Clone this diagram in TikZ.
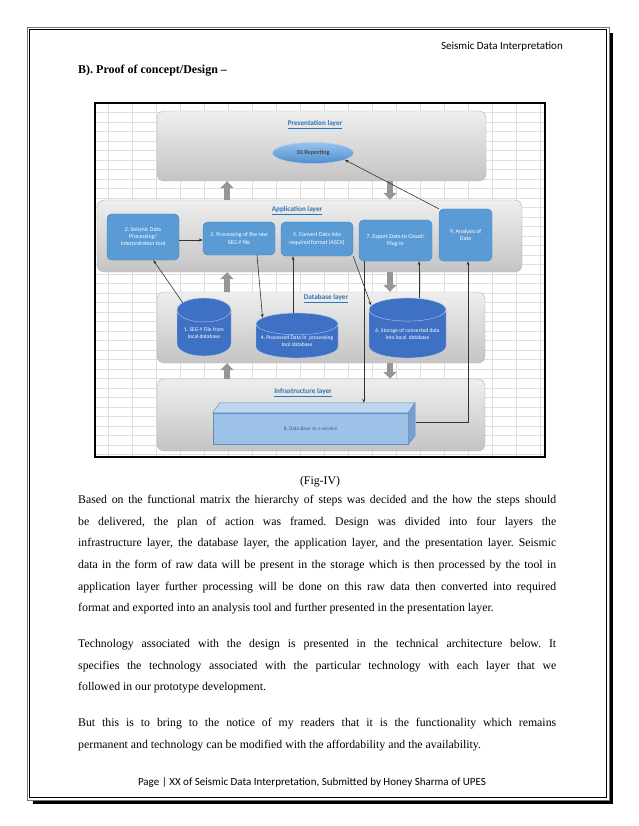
\documentclass[tikz,border=0pt]{standalone}
\usepackage{fontspec}
\setmainfont{Liberation Serif}
\newfontfamily\calfont{Carlito}
\usetikzlibrary{
  arrows.meta,
  positioning,
  calc,
  shapes.geometric
}
\definecolor{LayerTop}{RGB}{238,238,238}
\definecolor{LayerBottom}{RGB}{196,196,196}
\definecolor{LayerEdge}{RGB}{178,178,178}
\definecolor{TitleBlue}{RGB}{46,117,182}
\definecolor{StepBlue}{RGB}{91,155,213}
\definecolor{StepEdge}{RGB}{72,132,192}
\definecolor{DbBlue}{RGB}{62,112,196}
\definecolor{DbRim}{RGB}{176,204,238}
\definecolor{RepTop}{RGB}{150,196,236}
\definecolor{RepBottom}{RGB}{78,140,206}
\definecolor{RepText}{RGB}{70,70,80}
\definecolor{SvcFront}{RGB}{156,194,232}
\definecolor{SvcTop}{RGB}{190,214,240}
\definecolor{SvcSide}{RGB}{118,158,206}
\definecolor{SvcEdge}{RGB}{96,140,196}
\definecolor{SvcText}{RGB}{52,96,150}
\definecolor{BlockGray}{RGB}{150,150,150}
\definecolor{GridGray}{RGB}{222,222,222}
\newcommand\jline[1]{\makebox[478pt][s]{#1}}
\tikzset{
  layerbox/.style={draw=LayerEdge,top color=LayerTop,bottom color=LayerBottom,rounded corners=2.5mm,inner sep=0pt},
  layertitle/.style={font=\calfont\bfseries\fontsize{7.2}{8}\selectfont,text=TitleBlue,inner sep=0pt},
  stepnode/.style={draw=StepEdge,fill=StepBlue,rounded corners=1.6mm,text=white,align=center,font=\calfont\fontsize{5.9}{7.4}\selectfont,inner sep=1pt},
  dbnode/.style={cylinder,shape border rotate=90,anchor=shape center,draw=DbRim,fill=DbBlue,text=white,align=center,font=\calfont\fontsize{5.6}{7.2}\selectfont,inner sep=0pt},
  reportnode/.style={ellipse,draw=DbRim,top color=RepTop,bottom color=RepBottom,text=RepText,font=\calfont\bfseries\fontsize{6.2}{7}\selectfont,inner sep=0pt},
  svcface/.style={draw=SvcEdge,fill=SvcFront,text=SvcText,font=\calfont\fontsize{5.4}{6}\selectfont,inner sep=0pt},
  thinarrow/.style={-{Stealth[length=4pt,width=3pt]},line width=0.6pt,draw=black!80},
  blockarrow/.style={-{Triangle[width=13pt,length=7pt]},line width=5.5pt,draw=BlockGray},
  gridline/.style={draw=GridGray,line width=0.5pt},
  bodytext/.style={font=\fontsize{11.8}{14}\selectfont,inner sep=0pt},
  titletext/.style={font=\bfseries\fontsize{12}{14}\selectfont,inner sep=0pt},
  calibritext/.style={font=\calfont\fontsize{11}{13}\selectfont,inner sep=0pt}
}

\begin{document}
\frenchspacing
\begin{tikzpicture}[x=1pt,y=-1pt]
\useasboundingbox (0,0) rectangle (638,826);

% page frame with shadow
\draw[line width=3pt] (611,33) -- (611,802) -- (33,802);
\draw[black!55,line width=0.5pt] (27,27) rectangle (609,800);
\draw[line width=0.8pt] (29.5,29.5) rectangle (606.5,797.5);

\node[calibritext, anchor=base east] (head) at (563,50) {Seismic Data Interpretation};
\node[titletext, anchor=base west] (title) at (78,74) {B). Proof of concept/Design --};

% figure background
\foreach \gx in {108,132,...,540}
  \draw[gridline] (\gx,103) -- (\gx,457);
\foreach \gy in {112.5,122,...,457}
  \draw[gridline] (95,\gy) -- (545,\gy);
\draw[line width=1.1pt] (95,103) rectangle (545,457);

% layers
\node[layerbox, minimum width=329pt, minimum height=70pt] (pres) at (321.5,146) {};
\node[layerbox, minimum width=425pt, minimum height=72pt] (app) at (309.5,236) {};
\node[layerbox, minimum width=328pt, minimum height=71pt] (db) at (321,327.5) {};
\node[layerbox, minimum width=328pt, minimum height=72pt] (infra) at (321,415) {};

\node[layertitle] (prest) at (315,125) {\underline{Presentation layer}};
\node[layertitle] (appt) at (297,211) {\underline{Application layer}};
\node[layertitle] (dbt) at (326,299) {\underline{Database layer}};
\node[layertitle] (infrat) at (303,393) {\underline{Infrastructure layer}};

% presentation
\node[reportnode, minimum width=81pt, minimum height=21pt] (rep) at (313,153) {10.Reporting};

% application
\node[stepnode, minimum width=72pt, minimum height=46pt] (s2) at (143,237) {2. Seismic Data\\Processing/\\Interpretation tool};
\node[stepnode, minimum width=72pt, minimum height=33pt] (s3) at (239,238.5) {3. Processing of the raw\\SEG-Y file};
\node[stepnode, minimum width=72pt, minimum height=34pt] (s5) at (317,239) {5. Convert Data into\\required format (ASCII)};
\node[stepnode, minimum width=73pt, minimum height=41pt] (s7) at (395.5,240.5) {7. Export Data to Cloud/\\Plug-in};
\node[stepnode, minimum width=53pt, minimum height=52pt] (s9) at (465.5,235) {9. Analysis of\\Data};

% database
\node[dbnode, aspect=0.6, minimum width=54pt, minimum height=58pt] (c1) at (204,327) {1. SEG-Y File from\\local database};
\node[dbnode, aspect=0.3, minimum width=82pt, minimum height=45pt] (c4) at (297,335.5) {4. Processed Data in\ \ processing\\tool database};
\node[dbnode, aspect=0.36, minimum width=77pt, minimum height=60pt] (c6) at (407.5,328) {6. Storage of converted data\\into local\ \ database};

% infrastructure
\node[svcface, minimum width=195pt, minimum height=31pt] (svc) at (310.5,428.5) {8. Data Base as a service};
\filldraw[fill=SvcTop, draw=SvcEdge, line width=0.4pt] (svc.north west) -- ++(7,-10) -- ++(195,0) -- (svc.north east) -- cycle;
\filldraw[fill=SvcSide, draw=SvcEdge, line width=0.4pt] (svc.north east) -- ++(7,-10) -- ++(0,33) -- (svc.south east) -- cycle;
\coordinate (svcback) at ($(svc.north west)+(7,-10)$);
\coordinate (svcside) at ($(svc.east)+(8,-6)$);

% gray arrows between layers
\coordinate (upx) at (227,0);
\coordinate (dnx) at (390,0);
\draw[blockarrow] (upx |- app.north) -- (upx |- pres.south);
\draw[blockarrow] (dnx |- pres.south) -- (dnx |- app.north);
\draw[blockarrow] (upx |- db.north) -- (upx |- app.south);
\draw[blockarrow] (dnx |- app.south) -- (dnx |- db.north);
\draw[blockarrow] (upx |- infra.north) -- (upx |- db.south);
\draw[blockarrow] (dnx |- db.south) -- (dnx |- infra.north);

% data flow
\draw[thinarrow] ([yshift=-3pt]s2.east) -- ([yshift=-3pt]s2.east -| s3.west);
\draw[thinarrow] (s9.north west) -- (rep.-12);
\draw[thinarrow] (c1.125) -- (s2.-66);
\draw[thinarrow] ([xshift=18pt]s3.south) -- (c4.146);
\draw[thinarrow] ([xshift=-4pt]c4.north) -- ([xshift=-4pt]c4.north |- s5.south);
\draw[thinarrow] (s5.south east) -- (c6.142);
\draw[thinarrow] ([xshift=5pt]s7.south west) -- ([xshift=5pt]s7.south west |- svcback);
\draw[thinarrow] ([xshift=11.5pt]c6.north) -- ([xshift=11.5pt]c6.north |- s7.south);
\draw[thinarrow] (svcside) -| ([xshift=2.5pt]s9.south);

% text below the figure
\node[bodytext, anchor=base] (cap) at (320,484) {(Fig-IV)};

\node[bodytext, anchor=base west] (l1) at (78,503) {\jline{Based on the functional matrix the hierarchy of steps was decided and the how the steps should}};
\node[bodytext, anchor=base west] (l2) at (78,525) {\jline{be delivered, the plan of action was framed. Design was divided into four layers the}};
\node[bodytext, anchor=base west] (l3) at (78,546) {\jline{infrastructure layer, the database layer, the application layer, and the presentation layer. Seismic}};
\node[bodytext, anchor=base west] (l4) at (78,568) {\jline{data in the form of raw data will be present in the storage which is then processed by the tool in}};
\node[bodytext, anchor=base west] (l5) at (78,590) {\jline{application layer further processing will be done on this raw data then converted into required}};
\node[bodytext, anchor=base west] (l6) at (78,611) {format and exported into an analysis tool and further presented in the presentation layer.};

\node[bodytext, anchor=base west] (l7) at (78,647) {\jline{Technology associated with the design is presented in the technical architecture below. It}};
\node[bodytext, anchor=base west] (l8) at (78,669) {\jline{specifies the technology associated with the particular technology with each layer that we}};
\node[bodytext, anchor=base west] (l9) at (78,690) {followed in our prototype development.};

\node[bodytext, anchor=base west] (l10) at (78,726) {\jline{But this is to bring to the notice of my readers that it is the functionality which remains}};
\node[bodytext, anchor=base west] (l11) at (78,748) {permanent and technology can be modified with the affordability and the availability.};

\node[calibritext, anchor=base] (foot) at (312,785) {Page | XX of Seismic Data Interpretation, Submitted by Honey Sharma of UPES};
\end{tikzpicture}
\end{document}
